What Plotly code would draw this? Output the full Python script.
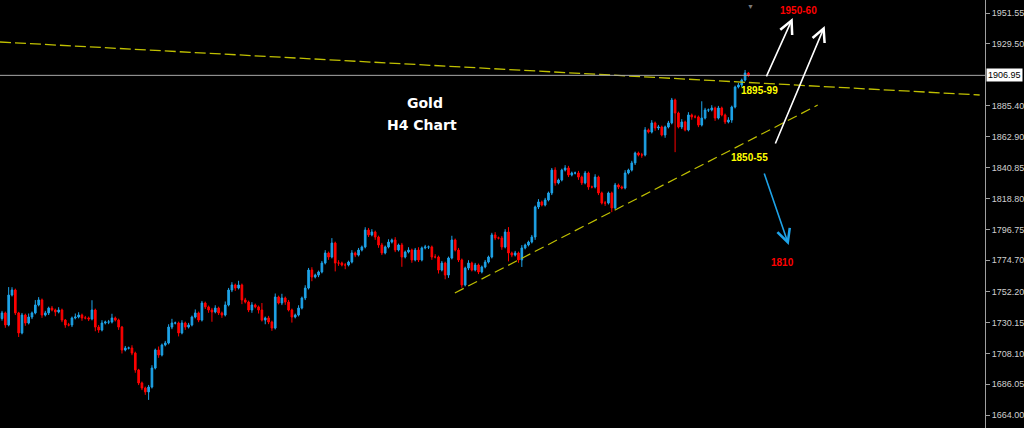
import plotly.graph_objects as go

# ---------------- data ----------------
close = [
    1737.0, 1728.4, 1749.8, 1753.4, 1737.0, 1722.7, 1735.5, 1729.8, 1734.1, 1737.0,
    1742.7, 1746.3, 1735.5, 1737.0, 1740.5, 1739.1, 1737.7, 1739.1, 1731.9, 1728.4,
    1728.4, 1733.4, 1734.1, 1735.5, 1733.4, 1733.4, 1732.7, 1739.1, 1726.9, 1724.8,
    1729.8, 1730.5, 1730.5, 1733.4, 1731.9, 1726.9, 1710.5, 1711.9, 1711.9, 1708.3,
    1696.2, 1686.9, 1683.3, 1680.5, 1684.0, 1697.6, 1710.5, 1706.9, 1714.1, 1715.5,
    1726.9, 1729.8, 1729.8, 1722.7, 1729.8, 1726.9, 1728.4, 1734.1, 1737.0, 1731.9,
    1744.1, 1741.3, 1739.1, 1737.7, 1740.5, 1737.0, 1735.5, 1742.7, 1753.4, 1757.0,
    1754.8, 1757.0, 1746.3, 1744.8, 1739.1, 1742.7, 1741.3, 1739.1, 1731.9, 1733.4,
    1730.5, 1726.2, 1748.4, 1744.1, 1747.7, 1744.8, 1739.1, 1734.1, 1735.5, 1740.5,
    1747.7, 1754.8, 1767.7, 1762.7, 1764.1, 1766.3, 1772.7, 1779.9, 1777.0, 1787.0,
    1772.7, 1772.7, 1771.3, 1771.3, 1773.4, 1779.9, 1778.4, 1782.0, 1784.2, 1796.3,
    1792.8, 1794.9, 1791.3, 1785.6, 1779.9, 1784.2, 1787.7,
    1789.2, 1782.0, 1785.6, 1777.0, 1780.6, 1782.0, 1774.9, 1782.0, 1774.9, 1783.5,
    1784.2, 1784.2, 1777.0, 1777.0, 1767.7, 1772.7, 1764.1, 1776.3, 1789.2, 1782.0,
    1774.9, 1757.0, 1769.1, 1772.7, 1767.7, 1771.3, 1766.3, 1769.9, 1773.4, 1777.0,
    1792.8, 1790.6, 1790.6, 1784.2, 1794.9, 1779.9, 1778.4, 1779.9, 1774.9, 1783.5,
    1785.6, 1787.7, 1791.3, 1812.8, 1816.4, 1814.2, 1817.8, 1822.8, 1839.2, 1830.0,
    1832.1, 1839.2, 1840.7, 1835.7, 1837.1, 1837.1, 1834.2,
    1830.0, 1837.1, 1827.1, 1827.1, 1834.2, 1822.8, 1815.6, 1815.6, 1822.8, 1812.1,
    1828.5, 1827.1, 1826.4, 1837.1, 1839.2, 1844.3, 1851.4, 1850.0, 1850.0, 1867.9,
    1866.4, 1872.9, 1869.3, 1870.0, 1864.3, 1870.0, 1872.9, 1889.3, 1880.0, 1870.0,
    1873.6, 1867.9, 1878.6, 1877.2, 1877.2, 1871.4, 1876.4, 1882.2, 1882.2, 1883.6,
    1876.4, 1883.6, 1878.6, 1873.6, 1875.0, 1884.3, 1898.6, 1900.0, 1903.6, 1908.6,
    1906.95,
]
first_open = 1733.0

upper_wick = [
    1.5, 1.0, 5.7, 2.0, 1.0, 0.8, 1.5, 1.0, 2.5, 1.0,
    3.5, 2.0, 1.0, 1.5, 1.0, 1.5, 1.0, 2.0, 1.0, 0.8,
    1.5, 1.0, 2.5, 2.0, 1.0, 1.5, 1.0, 7.0, 1.0, 1.5,
    2.0, 1.0, 1.5, 3.0, 1.0, 1.0, 0.8, 1.5, 1.0, 2.0,
    1.0, 0.8, 1.0, 1.0, 1.5, 2.0, 1.0, 2.5, 1.0, 1.5,
    2.0, 3.0, 1.0, 1.0, 2.0, 1.0, 1.5, 1.0, 2.5, 1.0,
    1.5, 1.0, 1.0, 1.5, 2.0, 1.0, 1.0, 2.5, 1.5, 2.0,
    1.0, 3.0, 1.0, 1.5, 1.0, 2.0, 1.0, 1.0, 5.0, 1.0,
    1.5, 1.0, 2.5, 1.0, 3.0, 1.0, 1.5, 1.0, 1.0, 2.0,
    1.0, 2.0, 1.5, 2.0, 1.0, 1.0, 1.5, 2.0, 1.0, 3.5,
    1.0, 2.0, 1.0, 1.5, 1.0, 2.0, 1.0, 1.5, 1.0, 2.0,
    1.5, 2.0, 1.0, 1.0, 1.5, 1.0, 2.0,
    1.0, 2.0, 1.0, 1.5, 1.0, 2.0, 1.0, 1.5, 2.0, 1.0,
    1.5, 1.0, 1.0, 2.0, 1.0, 1.5, 1.0, 1.0, 3.0, 1.0,
    1.5, 1.0, 1.0, 2.0, 1.0, 1.5, 1.0, 1.0, 1.5, 1.0,
    1.5, 2.0, 1.0, 1.5, 2.0, 3.5, 1.0, 1.5, 1.0, 2.0,
    1.0, 1.0, 1.5, 1.0, 2.0, 1.0, 1.5, 1.0, 1.5, 2.0,
    1.0, 1.0, 2.0, 1.5, 1.0, 1.0, 1.5,
    1.0, 1.5, 1.0, 1.0, 2.0, 1.0, 1.0, 1.5, 1.0, 1.0,
    1.5, 1.0, 1.0, 2.0, 1.0, 1.5, 1.0, 1.0, 1.5, 2.0,
    1.0, 2.0, 1.0, 1.5, 1.0, 1.0, 1.5, 1.5, 1.0, 1.0,
    2.0, 1.0, 2.0, 1.0, 1.5, 1.0, 12.0, 1.5, 1.0, 2.0,
    1.0, 1.5, 1.0, 1.0, 2.0, 1.0, 1.0, 1.5, 1.0, 2.2,
    0.8,
]

lower_wick = [
    1.5, 2.0, 1.0, 1.0, 1.5, 2.9, 1.0, 2.0, 1.0, 1.5,
    1.0, 1.0, 2.0, 1.0, 1.5, 1.0, 3.0, 1.0, 1.5, 2.0,
    1.0, 1.5, 1.0, 1.0, 2.0, 1.0, 1.5, 1.0, 3.0, 2.0,
    1.0, 1.0, 1.5, 1.0, 1.0, 2.0, 2.5, 1.0, 1.0, 1.5,
    2.0, 1.5, 1.5, 2.1, 5.7, 1.0, 1.0, 2.0, 1.0, 1.0,
    1.0, 1.5, 1.0, 2.5, 1.0, 2.0, 1.0, 1.0, 1.0, 1.5,
    1.0, 1.5, 2.0, 7.0, 1.0, 1.5, 2.0, 1.0, 1.0, 1.5,
    2.0, 1.0, 3.0, 1.0, 1.5, 2.0, 1.0, 2.5, 1.0, 3.0,
    1.5, 2.0, 1.0, 1.0, 1.5, 2.0, 1.0, 4.0, 1.0, 1.0,
    1.0, 1.5, 1.0, 3.0, 1.0, 1.5, 1.0, 1.0, 2.0, 1.0,
    6.0, 2.0, 1.0, 3.0, 1.0, 1.0, 1.5, 1.0, 1.0, 1.0,
    1.5, 1.0, 2.0, 2.0, 1.5, 1.0, 1.0,
    1.0, 1.5, 1.0, 7.0, 1.0, 1.0, 2.0, 1.0, 1.5, 1.0,
    1.0, 1.5, 2.0, 1.0, 2.5, 1.0, 3.0, 2.0, 1.0, 1.0,
    1.5, 2.0, 1.0, 1.5, 1.0, 1.0, 1.5, 1.0, 1.0, 1.0,
    1.0, 1.5, 1.0, 2.0, 1.0, 6.0, 1.5, 1.0, 2.0, 5.0,
    1.0, 1.0, 1.0, 2.0, 1.5, 1.0, 1.0, 1.0, 1.5, 2.0,
    1.0, 1.0, 1.0, 1.5, 1.0, 1.0, 2.0,
    1.5, 1.0, 2.0, 1.0, 1.0, 1.5, 1.0, 2.0, 1.0, 3.0,
    1.0, 1.5, 1.0, 1.0, 1.0, 1.0, 1.5, 1.0, 2.0, 1.0,
    1.0, 1.0, 2.0, 1.5, 1.0, 2.0, 1.0, 1.0, 28.0, 1.0,
    1.5, 1.0, 1.0, 2.0, 1.0, 1.5, 1.0, 1.0, 1.5, 1.0,
    2.0, 1.0, 1.0, 1.5, 1.0, 2.0, 1.0, 1.0, 1.5, 1.0,
    1.0,
]

tick_vals = [1951.55, 1929.50, 1885.40, 1862.90, 1840.85, 1818.80, 1796.75,
             1774.70, 1752.20, 1730.15, 1708.10, 1686.05, 1664.00]
tick_text = ["1951.55", "1929.50", "1885.40", "1862.90", "1840.85", "1818.80", "1796.75",
             "1774.70", "1752.20", "1730.15", "1708.10", "1686.05", "1664.00"]
current_price = 1906.95

# trend lines (bar index, price)
resist_x = [-0.6, 293.4]
resist_y = [1930.8, 1892.9]
support_x = [135.9, 244.8]
support_y = [1751.3, 1885.7]

# ---------------- build OHLC ----------------
n = min(len(close), len(upper_wick), len(lower_wick))
close = close[:n]
opens = [first_open] + close[:-1]
highs = [max(o, c) + u for o, c, u in zip(opens, close, upper_wick)]
lows = [min(o, c) - l for o, c, l in zip(opens, close, lower_wick)]
idx = list(range(n))

BLUE = "#1ea3e8"
RED = "#ff0000"
YEL = "#c0c000"

fig = go.Figure()
fig.add_trace(go.Candlestick(
    x=idx, open=opens, high=highs, low=lows, close=close,
    increasing=dict(line=dict(color=BLUE, width=1), fillcolor=BLUE),
    decreasing=dict(line=dict(color=RED, width=1), fillcolor=RED),
    whiskerwidth=0, hoverinfo="skip", showlegend=False,
))
fig.add_trace(go.Scatter(x=resist_x, y=resist_y, mode="lines",
                         line=dict(color=YEL, width=1.3, dash="11px,4px"),
                         hoverinfo="skip", showlegend=False))
fig.add_trace(go.Scatter(x=support_x, y=support_y, mode="lines",
                         line=dict(color=YEL, width=1.2, dash="10px,5px"),
                         hoverinfo="skip", showlegend=False))
fig.add_trace(go.Scatter(x=[-0.6, 295.0], y=[current_price, current_price], mode="lines",
                         line=dict(color="#a8a8a8", width=1),
                         hoverinfo="skip", showlegend=False))

annotations = []
# arrows: (tail_x, tail_y, head_x, head_y, color)
arrows = [
    (229.2, 1905.1, 237.3, 1948.0, "#ffffff"),
    (231.9, 1857.1, 246.9, 1942.3, "#ffffff"),
    (228.6, 1837.8, 236.1, 1785.6, BLUE),
]
for tx, ty, hx, hy, col in arrows:
    annotations.append(dict(x=hx, y=hy, ax=tx, ay=ty, xref="x", yref="y",
                            axref="x", ayref="y", text="", showarrow=True,
                            arrowhead=5, arrowsize=1.6, arrowwidth=1.6,
                            arrowcolor=col, standoff=0))

labels = [
    ("Gold", 126.9, 1887.2, "#ffffff", 14, "DejaVu Sans"),
    ("H4 Chart", 126.0, 1871.4, "#ffffff", 14, "DejaVu Sans"),
    ("1895-99", 227.4, 1895.8, "#ffff00", 10, "Liberation Sans"),
    ("1850-55", 224.4, 1848.5, "#ffff00", 10, "Liberation Sans"),
    ("1950-60", 239.1, 1953.7, "#ff0000", 10, "Liberation Sans"),
    ("1810", 234.3, 1773.4, "#ff0000", 10, "Liberation Sans"),
]
for t, x, y, col, sz, fam in labels:
    annotations.append(dict(x=x, y=y, xref="x", yref="y", text="<b>%s</b>" % t,
                            showarrow=False, font=dict(color=col, size=sz, family=fam),
                            xanchor="center", yanchor="middle"))

# current price box on the price scale
annotations.append(dict(x=1, y=current_price, xref="paper", yref="y", text="1906.95",
                        showarrow=False, xanchor="left", yanchor="middle", xshift=1,
                        bgcolor="#ffffff", font=dict(color="#000000", size=9,
                                                     family="Liberation Sans"),
                        borderpad=1))
# chart shift marker at top
annotations.append(dict(x=224.6, y=1, xref="x", yref="paper", text="▼",
                        showarrow=False, yanchor="top", font=dict(color="#7a7a7a", size=7)))

fig.update_layout(
    width=1024, height=428,
    margin=dict(l=0, r=39, t=0, b=0),
    paper_bgcolor="#000000", plot_bgcolor="#000000",
    showlegend=False, annotations=annotations,
    xaxis=dict(visible=False, range=[-0.6, 295.0], rangeslider=dict(visible=False),
               fixedrange=True),
    yaxis=dict(range=[1654.7, 1960.85], side="right", showgrid=False, zeroline=False,
               tickmode="array", tickvals=tick_vals, ticktext=tick_text,
               tickfont=dict(color="#d0d0d0", size=9, family="Liberation Sans"),
               showline=True, linecolor="#a0a0a0", linewidth=1,
               ticks="outside", ticklen=4, tickcolor="#a0a0a0", fixedrange=True),
)

fig.write_html("out.html",
               config={"displayModeBar": False},
               post_script="document.body.style.margin='0px';"
                           "document.body.style.background='#000000';")
